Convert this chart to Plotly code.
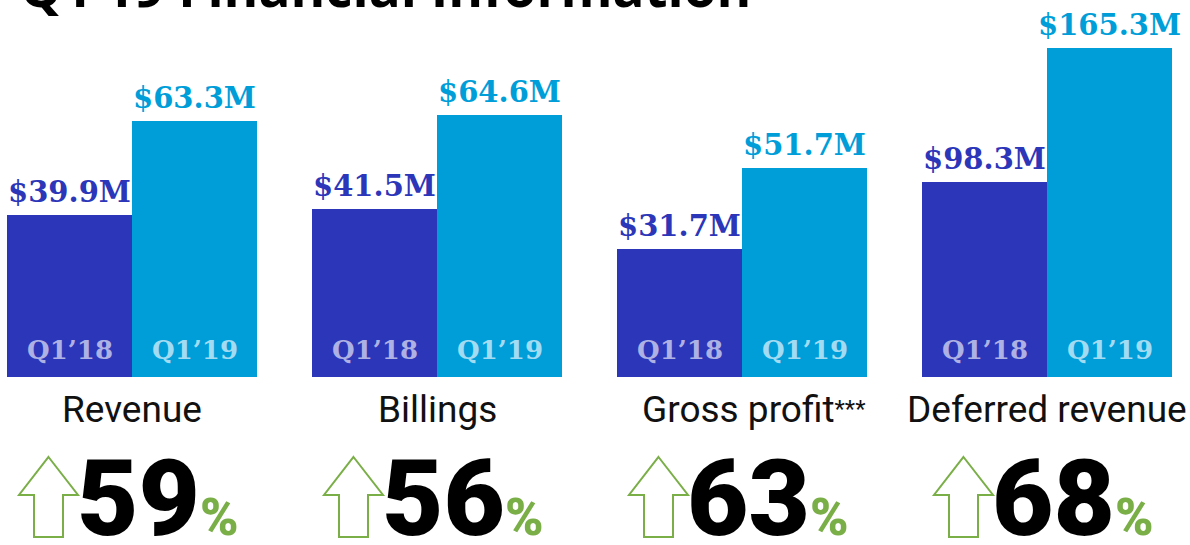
import plotly.graph_objects as go

# Q1 financial metrics, in $M
metrics = ["Revenue", "Billings", "Gross profit", "Deferred revenue"]
metric_labels = ["Revenue", "Billings",
                 "Gross profit<span style='font-size:24px;baseline-shift:5px'>***</span>",
                 "Deferred revenue"]
periods = ["Q1’18", "Q1’19"]
q1_18 = [39.9, 41.5, 31.7, 98.3]
q1_19 = [63.3, 64.6, 51.7, 165.3]
growth_pct = [59, 56, 63, 68]

W, H = 1190, 545
DARK = "#2c36b9"
LIGHT = "#009ed9"
DARK_TXT = "#aeb1e3"
LIGHT_TXT = "#a3dcf2"
GREEN = "#7aae47"

SLAB = "DejaVu Serif"
SANS = "Roboto"

# pixel layout of each panel
group_left = [7, 312, 617, 922]
group_w = 250
plot_bottom = 377
y_max = [93.1, 93.1, 93.1, 189.6]


def px(x):
    return x / W


def py(y):
    return 1 - y / H


fig = go.Figure()
annotations = []
shapes = []

for i, name in enumerate(metrics):
    ax = "" if i == 0 else str(i + 1)
    xa, ya = "x" + ax, "y" + ax
    vals = [q1_18[i], q1_19[i]]
    fig.add_trace(go.Bar(
        x=periods, y=vals, xaxis=xa, yaxis=ya,
        marker=dict(color=[DARK, LIGHT], line=dict(width=0)),
        showlegend=False, hoverinfo="skip",
    ))
    left = group_left[i]
    fig.layout["xaxis" + ax] = dict(
        domain=[px(left), px(left + group_w)], range=[-0.5, 1.5],
        visible=False, fixedrange=True, anchor=ya,
    )
    fig.layout["yaxis" + ax] = dict(
        domain=[py(plot_bottom), 1], range=[0, y_max[i]],
        visible=False, fixedrange=True, anchor=xa,
    )

    # value labels above the bars, period labels inside at the bottom
    for p, v, c, tc in zip(periods, vals, [DARK, LIGHT], [DARK_TXT, LIGHT_TXT]):
        annotations.append(dict(
            x=p, y=v, xref=xa, yref=ya, text=f"<b>${v:.1f}M</b>",
            showarrow=False, yanchor="bottom", yshift=4,
            font=dict(family=SLAB, size=29, color=c),
        ))
        annotations.append(dict(
            x=p, y=0, xref=xa, yref=ya, text=f"<b>{p}</b>",
            showarrow=False, yanchor="bottom", yshift=10,
            font=dict(family=SLAB, size=26, color=tc),
        ))

    # metric name under the panel
    annotations.append(dict(
        x=px(left + group_w / 2 + (12 if i == 2 else 0)), y=py(409),
        xref="paper", yref="paper", text=metric_labels[i],
        showarrow=False, yanchor="middle", xanchor="center",
        font=dict(family=SANS, size=37, color="#111111"),
    ))

    # outlined growth arrow
    a0 = left + 12
    pts = [(a0 + 29.5, 457), (a0 + 59, 495), (a0 + 44, 495), (a0 + 44, 537),
           (a0 + 15, 537), (a0 + 15, 495), (a0, 495)]
    path = "M " + " L ".join(f"{px(x):.5f},{py(y):.5f}" for x, y in pts) + " Z"
    shapes.append(dict(type="path", path=path, xref="paper", yref="paper",
                       line=dict(color=GREEN, width=2), fillcolor="rgba(0,0,0,0)"))

    # growth percentage
    annotations.append(dict(
        x=px(a0 + 56), y=py(499), xref="paper", yref="paper",
        text=(f"{growth_pct[i]}<span style='font-size:52px;color:{GREEN}'>"
              f"%</span>"),
        showarrow=False, xanchor="left", yanchor="middle",
        font=dict(family=SANS, size=106, color="#000000", weight=900),
    ))

# page title, partly above the top edge
annotations.append(dict(
    x=px(18), y=py(10), xref="paper", yref="paper",
    text="<b>Q1’19 Financial Information</b>", showarrow=False,
    xanchor="left", yanchor="bottom", yshift=-15,
    font=dict(family="Open Sans", size=53, color="#000000"),
))

fig.update_layout(
    width=W, height=H, autosize=False,
    margin=dict(l=0, r=0, t=0, b=0),
    paper_bgcolor="white", plot_bgcolor="white",
    bargap=0, annotations=annotations, shapes=shapes,
)

fig.write_html("out.html", config={"displayModeBar": False})
